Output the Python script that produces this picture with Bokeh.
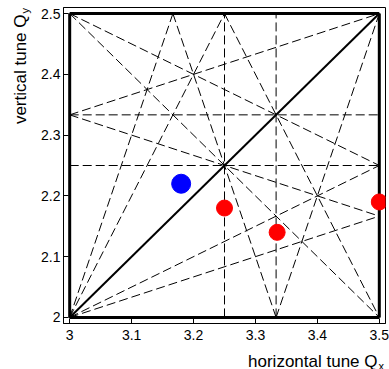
import numpy as np
from bokeh.plotting import figure
from bokeh.models import Range1d, FixedTicker, Label
from bokeh.embed import file_html
from bokeh.resources import INLINE

# ---- data ----
x_ticks = [3.0, 3.1, 3.2, 3.3, 3.4, 3.5]
x_tick_labels = ["3", "3.1", "3.2", "3.3", "3.4", "3.5"]
y_ticks = [2.0, 2.1, 2.2, 2.3, 2.4, 2.5]
y_tick_labels = ["2", "2.1", "2.2", "2.3", "2.4", "2.5"]

# thick resonance lines (integer / half-integer), start/end tunes
thick_x0 = [3.0, 3.5, 3.0, 3.0]
thick_y0 = [2.0, 2.0, 2.0, 2.5]
thick_x1 = [3.0, 3.5, 3.5, 3.5]
thick_y1 = [2.5, 2.5, 2.0, 2.5]

# coupling resonance Qx - Qy = 1
coup_x0 = [3.0]
coup_y0 = [2.0]
coup_x1 = [3.5]
coup_y1 = [2.5]

# higher-order resonance lines (3rd / 4th order), start/end tunes
res_x0 = [3.25, 10/3, 3.0, 3.0, 3.0, 3.25, 3.0, 3.0, 3.0, 19/6, 3.0, 10/3, 3.0, 3.0, 3.0]
res_y0 = [2.0, 2.0, 2.25, 7/3, 2.5, 2.5, 2.0, 2.5, 2.0, 2.5, 2.0, 2.0, 7/3, 2.0, 7/3]
res_x1 = [3.25, 10/3, 3.5, 3.5, 3.5, 3.5, 3.25, 3.5, 3.5, 10/3, 19/6, 3.5, 3.5, 3.5, 3.5]
res_y1 = [2.5, 2.5, 2.25, 7/3, 2.0, 2.0, 2.5, 2.25, 2.25, 2.0, 2.5, 2.5, 13/6, 13/6, 2.5]

# working points
blue_qx = [3.18]
blue_qy = [2.22]
red_qx = [3.25, 3.335, 3.5]
red_qy = [2.18, 2.14, 2.19]

# ---- layout ----
W, H = 389, 369
BL, BR, BT, BB = 63, 4, 7, 46
XR = (2.99, 3.51)
YR = (1.99, 2.51)
FW, FH = W - BL - BR, H - BT - BB

def px2x(px):
    return XR[0] + (px - BL) / FW * (XR[1] - XR[0])

def py2y(py):
    return YR[1] - (py - BT) / FH * (YR[1] - YR[0])

FONT = "Liberation Sans"

p = figure(width=W, height=H, output_backend="svg", toolbar_location=None,
           x_range=Range1d(*XR), y_range=Range1d(*YR),
           min_border_left=BL, min_border_right=BR, min_border_top=BT, min_border_bottom=BB)
p.grid.visible = False
p.outline_line_color = "black"
p.outline_line_width = 1
p.background_fill_color = "white"
p.border_fill_color = "white"

p.xaxis.ticker = FixedTicker(ticks=x_ticks)
p.yaxis.ticker = FixedTicker(ticks=y_ticks)
p.xaxis.major_label_overrides = {t: l for t, l in zip(x_ticks, x_tick_labels)}
p.yaxis.major_label_overrides = {t: l for t, l in zip(y_ticks, y_tick_labels)}
for ax in (p.xaxis, p.yaxis):
    ax.major_tick_in = 5
    ax.major_tick_out = 0
    ax.minor_tick_line_color = None
    ax.major_label_text_font = FONT
    ax.major_label_text_font_size = "14px"
    ax.major_label_text_color = "black"
    ax.axis_line_color = "black"
    ax.major_tick_line_color = "black"
p.xaxis.major_label_standoff = 6
p.yaxis.major_label_standoff = 3

p.segment(res_x0, res_y0, res_x1, res_y1, line_color="black", line_width=1, line_dash="9 4")
p.segment(coup_x0, coup_y0, coup_x1, coup_y1, line_color="black", line_width=2)
p.segment(thick_x0, thick_y0, thick_x1, thick_y1, line_color="black", line_width=3)

p.scatter(blue_qx, blue_qy, size=19, fill_color="#0000ff", line_color="#0000ff")
p.scatter(red_qx, red_qy, size=16, fill_color="#ff0000", line_color="#ff0000")

# axis titles with subscripts (placed in side panels so they are not clipped;
# positions are in data units, so the panel only reserves space)
lab = dict(text_baseline="alphabetic", text_font=FONT, text_color="black")
p.add_layout(Label(x=px2x(377), y=py2y(361), text="horizontal tune Q", text_align="right",
                   text_font_size="17px", **lab), "below")
p.add_layout(Label(x=px2x(20), y=py2y(14), text="vertical tune Q", text_align="right", angle=np.pi/2,
                   text_font_size="17px", **lab), "left")
p.add_layout(Label(x=px2x(24), y=py2y(13), text="y", text_align="left", angle=np.pi/2,
                   text_font_size="11px", **lab), "left")
p.add_layout(Label(x=px2x(378), y=py2y(365), text="x", text_align="left",
                   text_font_size="11px", **lab), "left")

open("out.html", "w").write(file_html(p, INLINE))
